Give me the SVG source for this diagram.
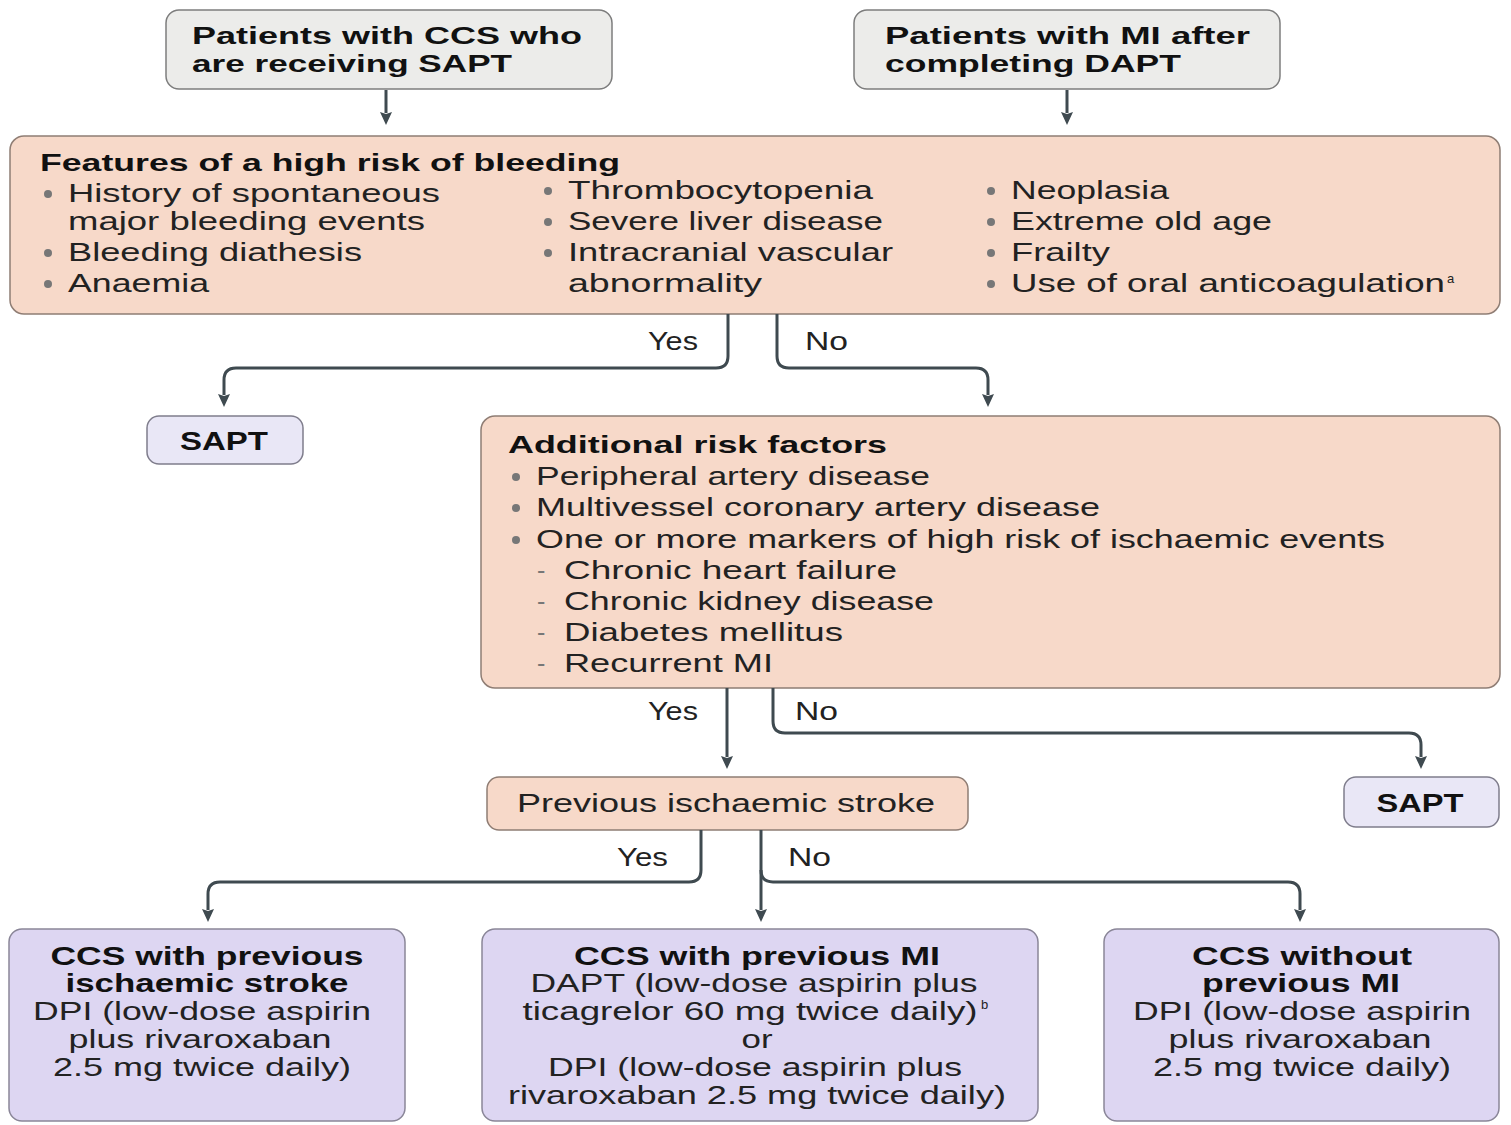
<svg xmlns="http://www.w3.org/2000/svg" width="1511" height="1125" viewBox="0 0 1511 1125">
<defs>
<marker id="ah" markerUnits="userSpaceOnUse" markerWidth="16" markerHeight="16" refX="1" refY="7" orient="auto">
<path d="M0,1 L13,7 L0,13 L2,7 z" fill="#3f4a50"/>
</marker>
</defs>
<style>
.gray{fill:#ececea;stroke:#7d7d7d;stroke-width:1.5}
.pink{fill:#f7d9c9;stroke:#8f7d74;stroke-width:1.5}
.lav{fill:#ddd6f2;stroke:#8a8698;stroke-width:1.5}
.lav2{fill:#e9e7f6;stroke:#7f7d8c;stroke-width:1.5}
text{font-family:"Liberation Sans",Arial,sans-serif;fill:#222}
.b{font-weight:700;fill:#111}
.t{font-size:24px}
.r{font-size:25px}
.m{font-size:25px}
.c{text-anchor:middle}
.dot{fill:#777}
.dash{fill:#777}
.sup{font-size:13px}
.conn path{fill:none;stroke:#3f4a50;stroke-width:3;stroke-linecap:butt}
</style>

<g id="n_ccs">
<rect class="gray" x="166" y="10" width="446" height="79" rx="13"/>
<text class="b t" x="192" y="44" textLength="390" lengthAdjust="spacingAndGlyphs">Patients with CCS who</text>
<text class="b t" x="192" y="72" textLength="320" lengthAdjust="spacingAndGlyphs">are receiving SAPT</text>
</g>

<g id="n_mi">
<rect class="gray" x="854" y="10" width="426" height="79" rx="13"/>
<text class="b t" x="885" y="44" textLength="365" lengthAdjust="spacingAndGlyphs">Patients with MI after</text>
<text class="b t" x="885" y="72" textLength="296" lengthAdjust="spacingAndGlyphs">completing DAPT</text>
</g>

<g id="n_bleed">
<rect class="pink" x="10" y="136" width="1490" height="178" rx="14"/>
<text class="b t" x="40" y="171" textLength="580" lengthAdjust="spacingAndGlyphs">Features of a high risk of bleeding</text>
<circle class="dot" cx="48" cy="194" r="4"/>
<text class="r" x="68" y="202" textLength="372" lengthAdjust="spacingAndGlyphs">History of spontaneous</text>
<text class="r" x="68" y="230" textLength="357" lengthAdjust="spacingAndGlyphs">major bleeding events</text>
<circle class="dot" cx="48" cy="253" r="4"/>
<text class="r" x="68" y="261" textLength="294" lengthAdjust="spacingAndGlyphs">Bleeding diathesis</text>
<circle class="dot" cx="48" cy="284" r="4"/>
<text class="r" x="68" y="292" textLength="141" lengthAdjust="spacingAndGlyphs">Anaemia</text>
<circle class="dot" cx="548" cy="191" r="4"/>
<text class="r" x="568" y="199" textLength="305" lengthAdjust="spacingAndGlyphs">Thrombocytopenia</text>
<circle class="dot" cx="548" cy="222" r="4"/>
<text class="r" x="568" y="230" textLength="315" lengthAdjust="spacingAndGlyphs">Severe liver disease</text>
<circle class="dot" cx="548" cy="253" r="4"/>
<text class="r" x="568" y="261" textLength="325" lengthAdjust="spacingAndGlyphs">Intracranial vascular</text>
<text class="r" x="568" y="292" textLength="194" lengthAdjust="spacingAndGlyphs">abnormality</text>
<circle class="dot" cx="991" cy="191" r="4"/>
<text class="r" x="1011" y="199" textLength="158" lengthAdjust="spacingAndGlyphs">Neoplasia</text>
<circle class="dot" cx="991" cy="222" r="4"/>
<text class="r" x="1011" y="230" textLength="261" lengthAdjust="spacingAndGlyphs">Extreme old age</text>
<circle class="dot" cx="991" cy="253" r="4"/>
<text class="r" x="1011" y="261" textLength="99" lengthAdjust="spacingAndGlyphs">Frailty</text>
<circle class="dot" cx="991" cy="284" r="4"/>
<text class="r" x="1011" y="292" textLength="434" lengthAdjust="spacingAndGlyphs">Use of oral anticoagulation</text>
<text class="sup" x="1447" y="283">a</text>
</g>

<g id="n_sapt1">
<rect class="lav2" x="147" y="416" width="156" height="48" rx="12"/>
<text class="b m c" x="224" y="450" textLength="88" lengthAdjust="spacingAndGlyphs">SAPT</text>
</g>

<g id="n_add">
<rect class="pink" x="481" y="416" width="1019" height="272" rx="14"/>
<text class="b t" x="508" y="453" textLength="379" lengthAdjust="spacingAndGlyphs">Additional risk factors</text>
<circle class="dot" cx="516" cy="477" r="4"/>
<text class="r" x="536" y="485" textLength="394" lengthAdjust="spacingAndGlyphs">Peripheral artery disease</text>
<circle class="dot" cx="516" cy="508" r="4"/>
<text class="r" x="536" y="516" textLength="564" lengthAdjust="spacingAndGlyphs">Multivessel coronary artery disease</text>
<circle class="dot" cx="516" cy="540" r="4"/>
<text class="r" x="536" y="548" textLength="849" lengthAdjust="spacingAndGlyphs">One or more markers of high risk of ischaemic events</text>
<text class="r dash" x="537" y="579">-</text>
<text class="r" x="564" y="579" textLength="333" lengthAdjust="spacingAndGlyphs">Chronic heart failure</text>
<text class="r dash" x="537" y="610">-</text>
<text class="r" x="564" y="610" textLength="370" lengthAdjust="spacingAndGlyphs">Chronic kidney disease</text>
<text class="r dash" x="537" y="641">-</text>
<text class="r" x="564" y="641" textLength="279" lengthAdjust="spacingAndGlyphs">Diabetes mellitus</text>
<text class="r dash" x="537" y="672">-</text>
<text class="r" x="564" y="672" textLength="209" lengthAdjust="spacingAndGlyphs">Recurrent MI</text>
</g>

<g id="n_stroke">
<rect class="pink" x="487" y="777" width="481" height="53" rx="12"/>
<text class="m c" x="726" y="812" textLength="418" lengthAdjust="spacingAndGlyphs">Previous ischaemic stroke</text>
</g>

<g id="n_sapt2">
<rect class="lav2" x="1344" y="777" width="155" height="50" rx="12"/>
<text class="b m c" x="1420" y="812" textLength="87" lengthAdjust="spacingAndGlyphs">SAPT</text>
</g>

<g id="n_out1">
<rect class="lav" x="9" y="929" width="396" height="192" rx="13"/>
<text class="b m c" x="207" y="965" textLength="313" lengthAdjust="spacingAndGlyphs">CCS with previous</text>
<text class="b m c" x="207" y="992" textLength="283" lengthAdjust="spacingAndGlyphs">ischaemic stroke</text>
<text class="m c" x="202" y="1020" textLength="338" lengthAdjust="spacingAndGlyphs">DPI (low-dose aspirin</text>
<text class="m c" x="200" y="1048" textLength="263" lengthAdjust="spacingAndGlyphs">plus rivaroxaban</text>
<text class="m c" x="202" y="1076" textLength="298" lengthAdjust="spacingAndGlyphs">2.5 mg twice daily)</text>
</g>

<g id="n_out2">
<rect class="lav" x="482" y="929" width="556" height="192" rx="13"/>
<text class="b m c" x="757" y="965" textLength="366" lengthAdjust="spacingAndGlyphs">CCS with previous MI</text>
<text class="m c" x="754" y="992" textLength="447" lengthAdjust="spacingAndGlyphs">DAPT (low-dose aspirin plus</text>
<text class="m c" x="750" y="1020" textLength="455" lengthAdjust="spacingAndGlyphs">ticagrelor 60 mg twice daily)</text>
<text class="sup" x="981" y="1009">b</text>
<text class="m c" x="757" y="1048" textLength="31" lengthAdjust="spacingAndGlyphs">or</text>
<text class="m c" x="755" y="1076" textLength="414" lengthAdjust="spacingAndGlyphs">DPI (low-dose aspirin plus</text>
<text class="m c" x="757" y="1104" textLength="498" lengthAdjust="spacingAndGlyphs">rivaroxaban 2.5 mg twice daily)</text>
</g>

<g id="n_out3">
<rect class="lav" x="1104" y="929" width="395" height="192" rx="13"/>
<text class="b m c" x="1302" y="965" textLength="220" lengthAdjust="spacingAndGlyphs">CCS without</text>
<text class="b m c" x="1301" y="992" textLength="198" lengthAdjust="spacingAndGlyphs">previous MI</text>
<text class="m c" x="1302" y="1020" textLength="338" lengthAdjust="spacingAndGlyphs">DPI (low-dose aspirin</text>
<text class="m c" x="1300" y="1048" textLength="263" lengthAdjust="spacingAndGlyphs">plus rivaroxaban</text>
<text class="m c" x="1302" y="1076" textLength="298" lengthAdjust="spacingAndGlyphs">2.5 mg twice daily)</text>
</g>

<g id="connectors" class="conn">
<path d="M386 90 V113" marker-end="url(#ah)"/>
<path d="M1067 90 V113" marker-end="url(#ah)"/>
<path d="M728 314 V356 Q728 368 716 368 H236 Q224 368 224 380 V395" marker-end="url(#ah)"/>
<path d="M777 314 V356 Q777 368 789 368 H976 Q988 368 988 380 V395" marker-end="url(#ah)"/>
<path d="M727 688 V757" marker-end="url(#ah)"/>
<path d="M773 688 V721 Q773 733 785 733 H1409 Q1421 733 1421 745 V757" marker-end="url(#ah)"/>
<path d="M701 830 V870 Q701 882 689 882 H220 Q208 882 208 894 V910" marker-end="url(#ah)"/>
<path d="M761 830 V910" marker-end="url(#ah)"/>
<path d="M761 870 Q761 882 773 882 H1288 Q1300 882 1300 894 V910" marker-end="url(#ah)"/>
<text class="m" x="648" y="350" textLength="50" lengthAdjust="spacingAndGlyphs">Yes</text>
<text class="m" x="805" y="350" textLength="43" lengthAdjust="spacingAndGlyphs">No</text>
<text class="m" x="648" y="720" textLength="50" lengthAdjust="spacingAndGlyphs">Yes</text>
<text class="m" x="795" y="720" textLength="43" lengthAdjust="spacingAndGlyphs">No</text>
<text class="m" x="617" y="866" textLength="51" lengthAdjust="spacingAndGlyphs">Yes</text>
<text class="m" x="788" y="866" textLength="43" lengthAdjust="spacingAndGlyphs">No</text>
</g>
</svg>
